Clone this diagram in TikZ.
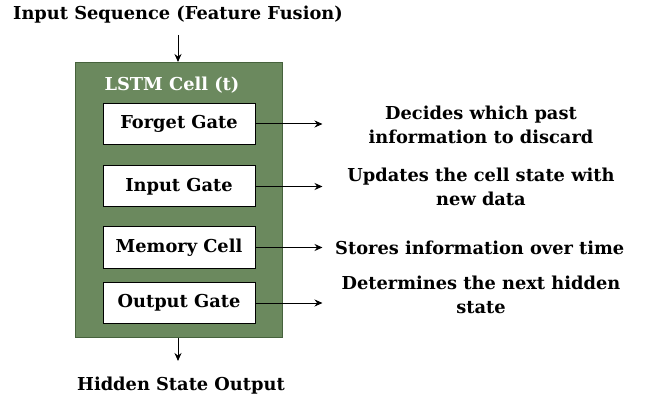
\documentclass[tikz,border=0pt]{standalone}
\usepackage{fontspec}
\setmainfont{DejaVu Serif}
\usetikzlibrary{arrows.meta}
\definecolor{cellgreen}{RGB}{107,137,94}
\definecolor{cellborder}{RGB}{70,98,60}
\begin{document}
\begin{tikzpicture}[x=1pt,y=-1pt,
  lbl/.style={font=\bfseries\fontsize{17.8}{23.5}\selectfont, text=black, align=center, inner sep=0pt},
  gate/.style={draw=black, line width=1pt, fill=white, minimum width=152pt, minimum height=41pt, inner sep=0pt, font=\bfseries\fontsize{17.8}{21}\selectfont},
  arr/.style={-{Stealth[length=8pt,width=7pt]}, line width=1pt}
]
\useasboundingbox (0,0) rectangle (646,401);
\node[draw=cellborder, line width=1pt, fill=cellgreen, minimum width=207pt, minimum height=275pt, inner sep=0pt] (cell) at (178.5,200) {};
\node[lbl] (title) at (178,15) {Input Sequence (Feature Fusion)};
\node[lbl, text=white] (celltitle) at (172,85) {LSTM Cell (t)};
\node[gate] (forget) at (179,124) {Forget Gate};
\node[gate] (input) at (179,186.5) {Input Gate};
\node[gate] (memory) at (179,247.5) {Memory Cell};
\node[gate] (output) at (179,303) {Output Gate};
\node[lbl] (dforget) at (481,125) {Decides which past\\information to discard};
\node[lbl] (dinput) at (481,187) {Updates the cell state with\\new data};
\node[lbl, anchor=west] (dmemory) at (335,248) {Stores information over time};
\node[lbl] (doutput) at (481,295) {Determines the next hidden\\state};
\node[lbl] (hidden) at (181,386) {Hidden State Output};
\coordinate (inarrow) at (178,35);
\coordinate (outarrow) at (178,361);
\draw[arr] (inarrow) -- (cell.north -| inarrow);
\draw[arr] (cell.south -| outarrow) -- (outarrow);
\draw[arr] (forget.east) -- ++(67,0);
\draw[arr] (input.east) -- ++(67,0);
\draw[arr] (memory.east) -- ++(67,0);
\draw[arr] (output.east) -- ++(67,0);
\end{tikzpicture}
\end{document}
